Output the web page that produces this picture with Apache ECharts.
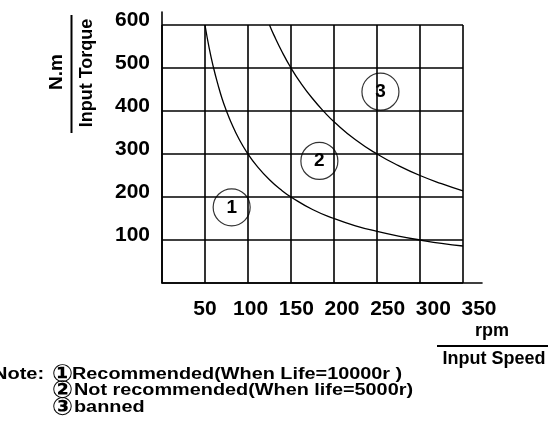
<!DOCTYPE html>
<html>
<head>
<meta charset="utf-8">
<script src="https://cdn.jsdelivr.net/npm/echarts@6/dist/echarts.min.js"></script>
<style>
  html, body { margin: 0; padding: 0; background: #fff; }
  #chart { width: 548px; height: 425px; }
</style>
</head>
<body>
<div id="chart"></div>
<script>
// tick labels
const speedTicks = [50, 100, 150, 200, 250, 300, 350]
const torqueTicks = [100, 200, 300, 400, 500, 600]

// curve between zone 1 and zone 2 (rpm, N.m)
const recommendedLimit = [
  [50, 600], [55, 545], [60, 500], [65, 462], [70, 428], [75, 400], [80, 375],
  [90, 333], [100, 300], [110, 273], [125, 240], [140, 214], [150, 200],
  [175, 171], [200, 150], [225, 133], [250, 120], [275, 109], [300, 100],
  [325, 92], [350, 86]
]
// curve between zone 2 and zone 3
const notRecommendedLimit = [
  [125, 600], [130, 577], [140, 536], [150, 500], [160, 469], [175, 429],
  [190, 395], [200, 375], [225, 333], [250, 300], [275, 273], [300, 250],
  [325, 231], [350, 214]
]

// zone markers
const zoneNames = ['1', '2', '3']
const zoneCenters = [[81, 176], [183, 284], [254, 445]]

// note lines
const noteCircles = ['\u2460', '\u2461', '\u2462']
const noteTexts = [
  'Recommended(When Life=10000r )',
  'Not recommended(When life=5000r)',
  'banned'
]

const FONT = '"Liberation Sans", Arial, sans-serif'
const noteY = [375, 391, 408]

const chart = echarts.init(document.getElementById('chart'))

const option = {
  backgroundColor: '#fff',
  animation: false,
  grid: [
    // main plot
    { left: 162, top: 25, width: 301, height: 258, outerBoundsMode: 'none', containLabel: false },
    // axis lines (run a bit past the plot)
    { left: 162, top: 12, width: 320, height: 271, outerBoundsMode: 'none', containLabel: false },
    // x tick labels
    { left: 159.3, top: 25, width: 319.7, height: 258, outerBoundsMode: 'none', containLabel: false }
  ],
  xAxis: [
    {
      gridIndex: 0, type: 'value', min: 0, max: 350, interval: 50,
      axisLine: { show: false }, axisTick: { show: false }, axisLabel: { show: false },
      splitLine: { show: true, lineStyle: { color: '#000', width: 1.6 } }
    },
    {
      gridIndex: 1, type: 'value', min: 0, max: 372,
      axisLine: { show: true, lineStyle: { color: '#000', width: 1.6 } },
      axisTick: { show: false }, axisLabel: { show: false }, splitLine: { show: false }
    },
    {
      gridIndex: 2, type: 'value', min: 0, max: 350, interval: 50,
      axisLine: { show: false }, axisTick: { show: false }, splitLine: { show: false },
      axisLabel: {
        show: true, showMaxLabel: true, margin: 16,
        color: '#000', fontFamily: FONT, fontWeight: 'bold', fontSize: 21,
        formatter: v => speedTicks.includes(v) ? String(v) : ''
      }
    }
  ],
  yAxis: [
    {
      gridIndex: 0, type: 'value', min: 0, max: 600, interval: 100,
      axisLine: { show: false }, axisTick: { show: false },
      splitLine: { show: true, lineStyle: { color: '#000', width: 1.6 } },
      axisLabel: {
        show: true, margin: 12, verticalAlign: 'bottom', lineHeight: 9,
        color: '#000', fontFamily: FONT, fontWeight: 'bold', fontSize: 21,
        formatter: v => torqueTicks.includes(v) ? String(v) : ''
      }
    },
    {
      gridIndex: 1, type: 'value', min: 0, max: 630,
      axisLine: { show: true, lineStyle: { color: '#000', width: 1.6 } },
      axisTick: { show: false }, axisLabel: { show: false }, splitLine: { show: false }
    },
    { gridIndex: 2, type: 'value', min: 0, max: 600, show: false }
  ],
  series: [
    {
      type: 'line', xAxisIndex: 0, yAxisIndex: 0, data: recommendedLimit,
      smooth: true, symbol: 'none', silent: true,
      lineStyle: { color: '#000', width: 1.3 }
    },
    {
      type: 'line', xAxisIndex: 0, yAxisIndex: 0, data: notRecommendedLimit,
      smooth: true, symbol: 'none', silent: true,
      lineStyle: { color: '#000', width: 1.3 }
    },
    {
      type: 'scatter', xAxisIndex: 0, yAxisIndex: 0, silent: true,
      data: zoneCenters, symbol: 'circle', symbolSize: 37,
      itemStyle: { color: 'rgba(255,255,255,0)', borderColor: '#000', borderWidth: 1.2 },
      label: {
        show: true, position: 'inside', color: '#000', opacity: 1,
        textBorderWidth: 0, fontFamily: FONT, fontWeight: 'bold', fontSize: 19,
        formatter: p => zoneNames[p.dataIndex]
      }
    }
  ],
  graphic: [
    // y axis name
    {
      type: 'text', x: 57, y: 72, rotation: Math.PI / 2,
      style: { text: 'N.m', font: 'bold 19px ' + FONT, fill: '#000', align: 'center', verticalAlign: 'middle' }
    },
    {
      type: 'line', shape: { x1: 71.5, y1: 15, x2: 71.5, y2: 133 },
      style: { stroke: '#000', lineWidth: 2 }
    },
    {
      type: 'text', x: 87, y: 73, rotation: Math.PI / 2,
      style: { text: 'Input Torque', font: 'bold 18px ' + FONT, fill: '#000', align: 'center', verticalAlign: 'middle' }
    },
    // x axis name
    {
      type: 'text', x: 492, y: 331,
      style: { text: 'rpm', font: 'bold 18px ' + FONT, fill: '#000', align: 'center', verticalAlign: 'middle' }
    },
    {
      type: 'line', shape: { x1: 437, y1: 346, x2: 548, y2: 346 },
      style: { stroke: '#000', lineWidth: 2 }
    },
    {
      type: 'text', x: 494, y: 359,
      style: { text: 'Input Speed', font: 'bold 18px ' + FONT, fill: '#000', align: 'center', verticalAlign: 'middle' }
    },
    // notes
    {
      type: 'text', x: -7, y: noteY[0], scaleX: 1.25,
      style: { text: 'Note:', font: 'bold 16px ' + FONT, fill: '#000', align: 'left', verticalAlign: 'middle' }
    },
    ...noteCircles.map((c, i) => ({
      type: 'text', x: 62.5, y: noteY[i],
      style: { text: c, font: 'bold 25px "DejaVu Sans", sans-serif', fill: '#000', align: 'center', verticalAlign: 'middle' }
    })),
    ...noteTexts.map((t, i) => ({
      type: 'text', x: i === 0 ? 72 : 74, y: noteY[i], scaleX: 1.24,
      style: { text: t, font: 'bold 16px ' + FONT, fill: '#000', align: 'left', verticalAlign: 'middle' }
    }))
  ]
}

chart.setOption(option)

window.addEventListener('resize', () => {
  chart.resize()
})
</script>
</body>
</html>
